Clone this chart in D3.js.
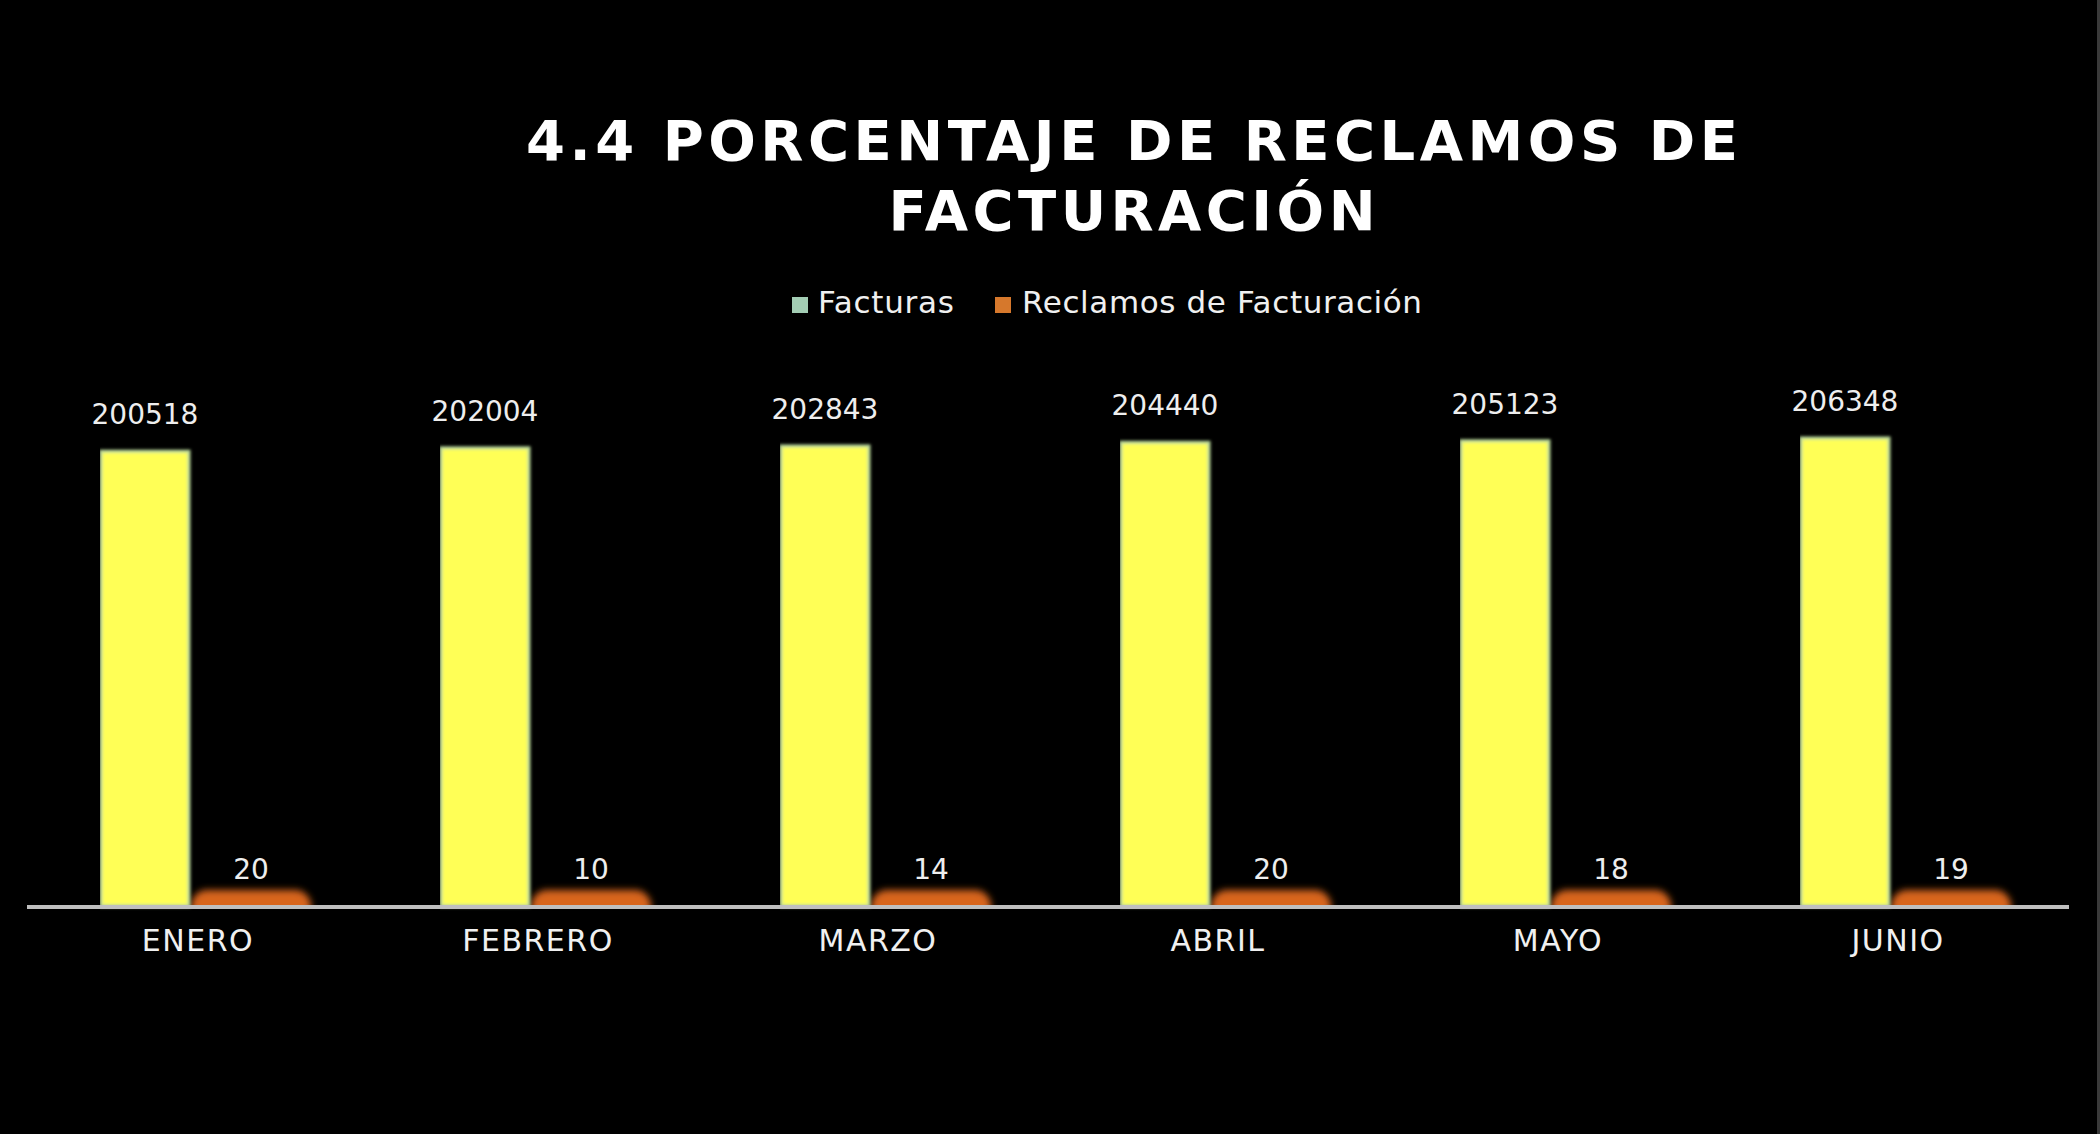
<!DOCTYPE html>
<html>
<head>
<meta charset="utf-8">
<script src="https://cdn.jsdelivr.net/npm/d3@7"></script>
<style>
  html, body { margin: 0; padding: 0; background: #000; }
  svg { display: block; }
</style>
</head>
<body>
<svg id="chart" width="2100" height="1134"></svg>
<script>
const months = ["ENERO", "FEBRERO", "MARZO", "ABRIL", "MAYO", "JUNIO"];
const seriesNames = ["Facturas", "Reclamos de Facturación"];
const facturas = [200518, 202004, 202843, 204440, 205123, 206348];
const reclamos = [20, 10, 14, 20, 18, 19];
const titleLines = ["4.4 PORCENTAJE DE RECLAMOS DE", "FACTURACIÓN"];

const W = 2100, H = 1134;
const svg = d3.select("#chart");
svg.append("rect").attr("width", W).attr("height", H).attr("fill", "#000");

const defs = svg.append("defs");
const fy = defs.append("filter").attr("id", "softY")
  .attr("filterUnits", "userSpaceOnUse").attr("x", 0).attr("y", 0).attr("width", W).attr("height", H);
fy.append("feGaussianBlur").attr("stdDeviation", 1.4);
const fo = defs.append("filter").attr("id", "glowO")
  .attr("filterUnits", "userSpaceOnUse").attr("x", 0).attr("y", 0).attr("width", W).attr("height", H);
fo.append("feGaussianBlur").attr("stdDeviation", 3.5);

const baseY = 906;
defs.append("clipPath").attr("id", "plotClip").attr("clipPathUnits", "userSpaceOnUse")
  .append("rect").attr("x", 0).attr("y", 0).attr("width", W).attr("height", baseY);

const x0 = d3.scaleBand().domain(months).range([28, 2068]).paddingInner(0.429).paddingOuter(0.2145);
const x1 = d3.scaleBand().domain(seriesNames).range([0, x0.bandwidth()]).paddingInner(0.17).paddingOuter(0);
const y = d3.scaleLinear().domain([0, 250000]).range([baseY, 339]);

const colors = { "Facturas": "#ffff57", "Reclamos de Facturación": "#d8651f" };
const legendColors = { "Facturas": "#a3cdb4", "Reclamos de Facturación": "#d6782c" };

// title
const fontStack = "'DejaVu Sans', 'Liberation Sans', sans-serif";
const titleG = svg.append("g");
const titleSpecs = [
  { x: 1132, y: 160, len: 1212 },
  { x: 1132, y: 230, len: 487 }
];
titleLines.forEach((t, i) => {
  titleG.append("text")
    .attr("x", titleSpecs[i].x).attr("y", titleSpecs[i].y)
    .attr("text-anchor", "middle")
    .attr("font-family", fontStack)
    .attr("font-weight", "bold")
    .attr("font-size", 56)
    .attr("fill", "#ffffff")
    .attr("textLength", titleSpecs[i].len)
    .attr("lengthAdjust", "spacing")
    .text(t);
});

// legend
const legendItems = [
  { name: seriesNames[0], sx: 792, tx: 818, len: 136 },
  { name: seriesNames[1], sx: 995, tx: 1022, len: 400 }
];
const lg = svg.append("g");
legendItems.forEach(it => {
  lg.append("rect").attr("x", it.sx).attr("y", 297).attr("width", 16).attr("height", 16)
    .attr("fill", legendColors[it.name]);
  lg.append("text").attr("x", it.tx).attr("y", 313)
    .attr("font-family", fontStack).attr("font-size", 31).attr("fill", "#f0f0f0")
    .attr("textLength", it.len).attr("lengthAdjust", "spacing")
    .text(it.name);
});

// bars
const data = months.map((m, i) => ({ month: m, values: [
  { key: seriesNames[0], value: facturas[i] },
  { key: seriesNames[1], value: reclamos[i] }
]}));

// orange (reclamos) glow bars
const orangeLayer = svg.append("g").attr("clip-path", "url(#plotClip)");
orangeLayer.selectAll("rect").data(data).join("rect")
  .attr("x", d => x0(d.month) + x1(seriesNames[1]))
  .attr("y", d => y(d.values[1].value))
  .attr("width", x1.bandwidth())
  .attr("height", d => y(0) - y(d.values[1].value))
  .attr("fill", colors[seriesNames[1]])
  .attr("stroke", colors[seriesNames[1]])
  .attr("stroke-width", 32)
  .attr("stroke-linejoin", "round")
  .attr("filter", "url(#glowO)");

// yellow (facturas) bars
const groups = svg.append("g").selectAll("g.grp").data(data).join("g")
  .attr("class", "grp")
  .attr("transform", d => `translate(${x0(d.month)},0)`);
groups.selectAll("rect.fac").data(d => d.values.filter(v => v.key === seriesNames[0])).join("rect")
  .attr("class", "fac")
  .attr("x", v => x1(v.key))
  .attr("y", v => y(v.value))
  .attr("width", x1.bandwidth())
  .attr("height", v => y(0) - y(v.value))
  .attr("fill", colors[seriesNames[0]])
  .attr("stroke", "#b9d99c")
  .attr("stroke-width", 3)
  .attr("filter", "url(#softY)");

// value labels
const labelLayer = svg.append("g");
labelLayer.selectAll("g").data(data).join("g")
  .attr("transform", d => `translate(${x0(d.month)},0)`)
  .selectAll("text.val").data(d => d.values).join("text")
  .attr("class", "val")
  .attr("x", v => x1(v.key) + x1.bandwidth() / 2)
  .attr("y", v => y(v.value) - 27)
  .attr("text-anchor", "middle")
  .attr("font-family", fontStack)
  .attr("font-size", 28)
  .attr("fill", "#eeeeee")
  .text(v => v.value);

// x axis
const xAxis = d3.axisBottom(x0).tickSize(0).tickPadding(24);
const axG = svg.append("g").attr("transform", `translate(0,${baseY})`).call(xAxis);
axG.select(".domain").attr("stroke", "#bfbfbf").attr("stroke-width", 4)
  .attr("d", "M27,1H2069");
axG.selectAll(".tick text")
  .attr("font-family", fontStack)
  .attr("font-size", 30)
  .attr("letter-spacing", 1.5)
  .attr("fill", "#f0f0f0")
  .attr("dy", "0.71em");

// right border
svg.append("line").attr("x1", 2098.5).attr("x2", 2098.5).attr("y1", 0).attr("y2", H)
  .attr("stroke", "#3a3a3a").attr("stroke-width", 3);
</script>
</body>
</html>
